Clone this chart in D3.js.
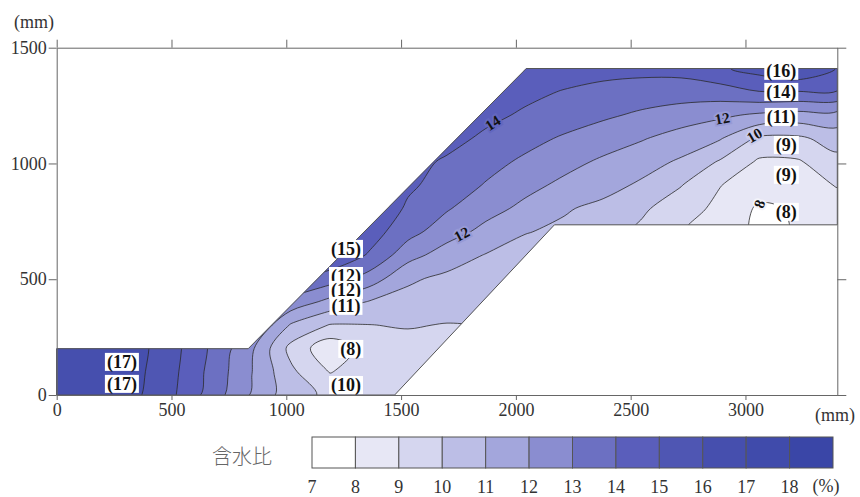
<!DOCTYPE html>
<html>
<head>
<meta charset="utf-8">
<script src="https://cdn.jsdelivr.net/npm/d3@7"></script>
<style>
body { margin: 0; background: #fff; }
text { font-family: "Liberation Serif", "Times New Roman", serif; }
</style>
</head>
<body>
<div id="chart"></div>
<script>
// grid of readings: columns along the section (mm), rows in height (mm)
var gridX = [0, 170, 340, 510, 680, 850, 1020, 1190, 1360, 1530, 1700, 1870, 2040, 2210, 2380, 2550, 2720, 2890, 3060, 3230, 3400];
var gridY = [0, 101, 201, 302, 403, 504, 604, 705, 806, 906, 1007, 1108, 1209, 1309, 1410];
// water content (%) per row, bottom row first (values outside the bank only keep the edges smooth)
var moisture = [
    [16.7, 16.6, 16.2, 15.1, 13.5, 11.9, 10.4, 9.8, 9.6, 9.5, 9.6, 9.7, 9.7, 9.7, 9.7, 9.7, 9.7, 9.7, 9.7, 9.7, 9.7],
    [16.7, 16.6, 16.3, 15.2, 13.65, 12.02, 10.2, 8.95, 9.5, 9.6, 9.7, 9.7, 9.7, 9.7, 9.7, 9.7, 9.7, 9.7, 9.7, 9.7, 9.7],
    [16.7, 16.6, 16.4, 15.3, 13.8, 12.15, 9.7, 8.3, 9.4, 9.6, 9.7, 9.8, 9.8, 9.8, 9.8, 9.8, 9.8, 9.8, 9.8, 9.8, 9.8],
    [16.7, 16.6, 16.4, 15.3, 13.8, 13.2, 10.9, 9.95, 9.98, 10.08, 9.95, 10.02, 10.3, 10.3, 10.3, 10.3, 10.3, 10.3, 10.3, 10.3, 10.3],
    [16.7, 16.6, 16.4, 15.3, 14.1, 13.5, 12.7, 11.7, 10.95, 10.7, 10.55, 10.5, 10.5, 10.5, 10.5, 10.5, 10.5, 10.5, 10.5, 10.5, 10.5],
    [16.7, 16.6, 16.4, 15.5, 14.8, 14.4, 14.05, 13.5, 12.6, 11.15, 10.8, 10.6, 10.6, 10.6, 10.6, 10.6, 10.6, 10.6, 10.6, 10.6, 10.6],
    [16.7, 16.6, 16.4, 15.5, 15.1, 15.1, 15.1, 14.9, 13.9, 12.4, 11.5, 10.95, 10.6, 10.7, 10.7, 10.7, 10.7, 10.7, 10.7, 10.7, 10.7],
    [16.7, 16.6, 16.4, 15.5, 15.1, 15.1, 15.1, 15.1, 14.5, 13.35, 12.45, 11.7, 11.05, 10.8, 10.5, 9.8, 9.05, 8.45, 7.85, 8.05, 8.55],
    [16.7, 16.6, 16.4, 15.5, 15.1, 15.1, 15.1, 15.1, 15.1, 13.82, 13.09, 12.37, 11.76, 11.1, 10.75, 10.15, 9.46, 8.74, 7.85, 8.1, 8.6],
    [16.7, 16.6, 16.4, 15.5, 15.1, 15.1, 15.1, 15.1, 14.6, 14.2, 13.53, 12.93, 12.3, 11.78, 11.35, 10.84, 10.04, 9.03, 8.45, 8.6, 9.05],
    [16.7, 16.6, 16.4, 15.5, 15.1, 15.1, 15.1, 15.1, 14.6, 14.4, 13.84, 13.33, 12.83, 12.32, 11.84, 11.39, 10.86, 9.89, 8.85, 8.9, 9.68],
    [16.7, 16.6, 16.4, 15.5, 15.1, 15.1, 15.1, 15.1, 14.8, 14.6, 14.4, 13.77, 13.32, 12.88, 12.48, 12.07, 11.58, 11.07, 9.8, 9.8, 10.45],
    [16.7, 16.6, 16.4, 15.5, 15.1, 15.1, 15.1, 15.1, 14.8, 14.7, 14.6, 14.3, 13.83, 13.5, 13.16, 12.83, 12.51, 12.19, 11.82, 11.62, 11.63],
    [16.7, 16.6, 16.4, 15.5, 15.1, 15.1, 15.1, 15.1, 14.9, 14.9, 14.9, 14.8, 14.3, 13.93, 13.7, 13.54, 13.48, 13.56, 13.97, 13.96, 13.96],
    [16.7, 16.6, 16.4, 15.5, 15.1, 15.1, 15.1, 15.1, 14.9, 14.9, 14.9, 14.9, 14.8, 14.6, 14.35, 14.3, 14.35, 14.85, 15.4, 15.95, 14.95]
];
// embankment outline (mm)
var bankX = [0, 0, 834, 2045, 3400, 3400, 2168, 1472];
var bankY = [0, 200, 200, 1410, 1410, 735, 735, 0];
// contour levels / colour scale
var levels = [7, 8, 9, 10, 11, 12, 13, 14, 15, 16, 17, 18];
var bandColors = ['#ffffff', '#e7e7f5', '#d5d6ef', '#bcbee6', '#a3a6dc', '#8a8dd0', '#6c70c2', '#5a5ebb', '#4f56b3', '#464fae', '#404bab', '#3a46a7'];
// sensor readings (%), and where they sit (mm)
var sensorValue = [17, 17, 15, 12, 12, 11, 8, 10, 16, 14, 11, 9, 9, 8];
var sensorX = [284, 284, 1260, 1260, 1260, 1260, 1281, 1260, 3156, 3156, 3156, 3178, 3178, 3178];
var sensorY = [143, 48, 631, 514, 454, 385, 199, 43, 1400, 1309, 1201, 1080, 951, 791];
// labels written on contour lines
var lineLabelValue = [14, 12, 12, 10, 8];
var lineLabelX = [1899, 1764, 2899, 3039, 3060];
var lineLabelY = [1175, 695, 1195, 1122, 825];
var lineLabelAngle = [-33, -28, -10, -30, -70];
var xTicks = [0, 500, 1000, 1500, 2000, 2500, 3000];
var yTicks = [0, 500, 1000, 1500];

var width = 860;
var height = 497;
var svg = d3.select('#chart')
    .append('svg')
    .attr('width', width)
    .attr('height', height);

var x = d3.scaleLinear().domain([0, 3400]).range([56.7, 837.3]);
var y = d3.scaleLinear().domain([0, 1500]).range([395, 47.7]);

// d3.contours puts value i at i + 0.5
var nx = gridX.length;
var ny = gridY.length;
var gx = d3.scaleLinear().domain([0.5, nx - 0.5]).range([gridX[0], gridX[nx - 1]]);
var gy = d3.scaleLinear().domain([0.5, ny - 0.5]).range([gridY[0], gridY[ny - 1]]);

var values = [];
moisture.forEach(function (row) {
    row.forEach(function (v) { values.push(v); });
});
var bands = d3.contours()
    .size([nx, ny])
    .thresholds(levels)(values);

var ringLine = d3.line()
    .x(function (p) { return x(gx(p[0])); })
    .y(function (p) { return y(gy(p[1])); })
    .curve(d3.curveCatmullRomClosed.alpha(0.5));
function shapePath(c) {
    return c.coordinates.map(function (poly) {
        return poly.map(function (ring) { return ringLine(ring.slice(0, -1)); }).join('');
    }).join('');
}

var bankPoints = bankX.map(function (d, i) { return [x(d), y(bankY[i])]; });
svg.append('clipPath')
    .attr('id', 'bank')
    .append('polygon')
    .attr('points', bankPoints.join(' '));

var plotGroup = svg.append('g').attr('clip-path', 'url(#bank)');
plotGroup.selectAll('.band')
    .data(bands)
    .enter()
    .append('path')
    .classed('band', true)
    .attr('d', shapePath)
    .style('fill-rule', 'evenodd')
    .style('fill', function (d, i) { return bandColors[i]; })
    .style('stroke', 'none');
plotGroup.selectAll('.iso')
    .data(bands.filter(function (d) { return d.value > 7; }))
    .enter()
    .append('path')
    .classed('iso', true)
    .attr('d', shapePath)
    .style('fill', 'none')
    .style('stroke', '#2b2b2b')
    .style('stroke-width', 0.8);

svg.append('polygon')
    .attr('points', bankPoints.join(' '))
    .style('fill', 'none')
    .style('stroke', '#555')
    .style('stroke-width', 1);

// axes
function styleAxis(g) {
    g.select('.domain').style('stroke', '#666');
    g.selectAll('.tick line').style('stroke', '#666');
    g.selectAll('text')
        .style('font-family', '"Liberation Serif", serif')
        .style('font-size', '18px')
        .attr('fill', '#333');
}
svg.append('g')
    .attr('transform', 'translate(0,' + y(0) + ')')
    .call(d3.axisBottom(x).tickValues(xTicks).tickSizeInner(5).tickSizeOuter(0).tickPadding(3).tickFormat(d3.format('d')))
    .call(styleAxis);
svg.append('g')
    .attr('transform', 'translate(0,' + y(1500) + ')')
    .call(d3.axisTop(x).tickValues(xTicks).tickSizeInner(8).tickSizeOuter(0).tickFormat(''))
    .call(styleAxis);
svg.append('g')
    .attr('transform', 'translate(' + x(0) + ',0)')
    .call(d3.axisLeft(y).tickValues(yTicks).tickSizeInner(8).tickSizeOuter(0).tickPadding(2).tickFormat(d3.format('d')))
    .call(styleAxis);
svg.append('g')
    .attr('transform', 'translate(' + x(3400) + ',0)')
    .call(d3.axisRight(y).tickValues(yTicks).tickSizeInner(9).tickSizeOuter(0).tickFormat(''))
    .call(styleAxis);

svg.append('text')
    .text('(mm)')
    .attr('x', 34)
    .attr('y', 28)
    .attr('text-anchor', 'middle')
    .style('font-size', '18px')
    .attr('fill', '#333');
svg.append('text')
    .text('(mm)')
    .attr('x', 835)
    .attr('y', 421)
    .attr('text-anchor', 'middle')
    .style('font-size', '18px')
    .attr('fill', '#333');

// labels on the contour lines
svg.append('g').selectAll('.clab')
    .data(lineLabelValue)
    .enter()
    .append('text')
    .classed('clab', true)
    .text(function (d) { return d; })
    .attr('transform', function (d, i) {
        return 'translate(' + x(lineLabelX[i]) + ',' + y(lineLabelY[i]) + ') rotate(' + lineLabelAngle[i] + ')';
    })
    .attr('text-anchor', 'middle')
    .attr('dy', '0.35em')
    .style('font-size', '15px')
    .style('font-weight', 'bold')
    .style('paint-order', 'stroke')
    .style('stroke', function (d) { return d3.interpolateRgb(bandColors[d - 8], bandColors[d - 7])(0.5); })
    .style('stroke-width', 4)
    .attr('fill', '#111');

// sensor readings in white boxes
var sensorGroup = svg.append('g');
sensorValue.forEach(function (v, i) {
    var g = sensorGroup.append('g')
        .attr('transform', 'translate(' + x(sensorX[i]) + ',' + y(sensorY[i]) + ')');
    var box = g.append('rect').style('fill', '#fff');
    var t = g.append('text')
        .text('(' + v + ')')
        .attr('text-anchor', 'middle')
        .attr('dy', '0.33em')
        .style('font-size', '18px')
        .style('font-weight', 'bold')
        .attr('fill', '#111');
    var w = t.node().getComputedTextLength();
    box.attr('x', -w / 2 - 2).attr('y', -9).attr('width', w + 4).attr('height', 18);
});

// colour bar
var barX = d3.scaleLinear().domain([7, 19]).range([312, 833]);
var legendGroup = svg.append('g');
legendGroup.selectAll('rect')
    .data(levels)
    .enter()
    .append('rect')
    .attr('x', function (d) { return barX(d); })
    .attr('y', 437)
    .attr('width', function (d) { return barX(d + 1) - barX(d); })
    .attr('height', 31)
    .style('fill', function (d, i) { return bandColors[i]; })
    .style('stroke', '#555')
    .style('stroke-width', 1);
legendGroup.selectAll('.lab')
    .data(levels)
    .enter()
    .append('text')
    .classed('lab', true)
    .text(function (d) { return d; })
    .attr('x', function (d) { return barX(d); })
    .attr('y', 493)
    .attr('text-anchor', 'middle')
    .style('font-size', '18px')
    .attr('fill', '#333');
legendGroup.append('text')
    .text('(%)')
    .attr('x', 826)
    .attr('y', 492)
    .attr('text-anchor', 'middle')
    .style('font-size', '18px')
    .attr('fill', '#333');
legendGroup.append('text')
    .text('含水比')
    .attr('x', 242)
    .attr('y', 464)
    .attr('text-anchor', 'middle')
    .style('font-family', '"Noto Sans CJK JP", sans-serif')
    .style('font-size', '20px')
    .style('font-weight', 300)
    .attr('fill', '#666');
</script>
</body>
</html>
